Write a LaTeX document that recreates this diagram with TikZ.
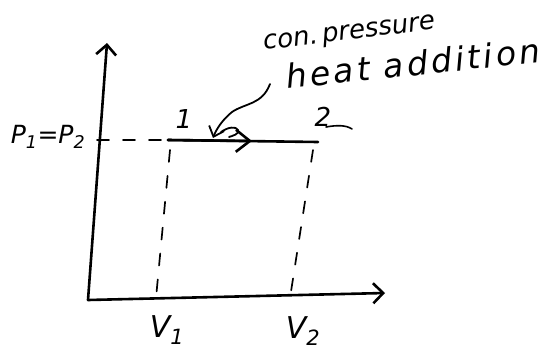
\documentclass[tikz,border=0pt]{standalone}
\usepackage{fontspec}
\newfontfamily\handfont{DejaVu Sans}
\usetikzlibrary{arrows.meta}
\begin{document}
\begin{tikzpicture}[x=1pt,y=-1pt, line cap=round, line join=round,
  axis/.style={line width=2.6pt, -{Straight Barb[length=10pt,width=20pt,line width=2.6pt]}},
  proc/.style={line width=2.6pt},
  guide/.style={line width=1.7pt, dash pattern=on 12pt off 14pt},
  leader/.style={line width=1.8pt, -{Straight Barb[length=9pt,width=16pt,line width=1.8pt]}},
  lbl/.style={font=\handfont\itshape\fontsize{30}{32}\selectfont, inner sep=0pt},
  note/.style={font=\handfont\itshape, inner sep=0pt}]
\useasboundingbox (0,0) rectangle (556,359);
% axes
\coordinate (O) at (88,300);
\coordinate (Ytop) at (107,43);
\coordinate (Xend) at (385,293);
\draw[axis] (O) -- (Ytop);
\draw[axis] (O) -- (Xend);
% state points
\coordinate (Yp) at (97,140);
\coordinate (p1) at (168,140);
\coordinate (p2) at (318,142);
\coordinate (mid) at (252,141);
\coordinate (v1top) at (170,150);
\coordinate (v1bot) at (156,298);
\coordinate (v2top) at (313,150);
\coordinate (v2bot) at (290,298);
% dashed guides
\draw[guide] (Yp) -- (p1);
\draw[guide] (v1top) -- (v1bot);
\draw[guide] (v2top) -- (v2bot);
% process line
\draw[proc] (p1) -- (p2);
\draw[line width=2.6pt, -{Straight Barb[length=14pt,width=22pt,line width=2.6pt]}] (p1) -- (mid);
% labels
\node[lbl, font=\handfont\itshape\fontsize{25}{28}\selectfont] (P) at (48,137) {P\textsubscript{1}=P\textsubscript{2}};
\node[lbl, font=\handfont\itshape\fontsize{26}{28}\selectfont] (l1) at (184,119) {1};
\node[lbl, font=\handfont\itshape\fontsize{26}{28}\selectfont] (l2) at (323,117) {2};
\draw[line width=1.6pt] (326,127) .. controls (337,125) and (346,125) .. (352,129);
\node[lbl] (V1) at (167,330) {V\textsubscript{1}};
\node[lbl] (V2) at (303,331) {V\textsubscript{2}};
% annotation
\node[note, font=\handfont\itshape\fontsize{26}{28}\selectfont, anchor=base west, rotate=7] (t1) at (264,50) {con.\,pressure};
\node[note, font=\handfont\itshape\fontsize{33}{36}\selectfont\addfontfeatures{LetterSpace=10}, anchor=base west, rotate=6] (t2) at (287,89) {heat addition};
\coordinate (lstart) at (270,84);
\coordinate (ltip) at (213,138);
\draw[leader] (lstart) .. controls (262,105) and (245,103) .. (232,112) .. controls (222,120) and (216,130) .. (ltip);
\draw[line width=1.8pt] (221,132) .. controls (228,127) and (236,126) .. (238,130) .. controls (240,134) and (232,136) .. (229,137);
\end{tikzpicture}
\end{document}
